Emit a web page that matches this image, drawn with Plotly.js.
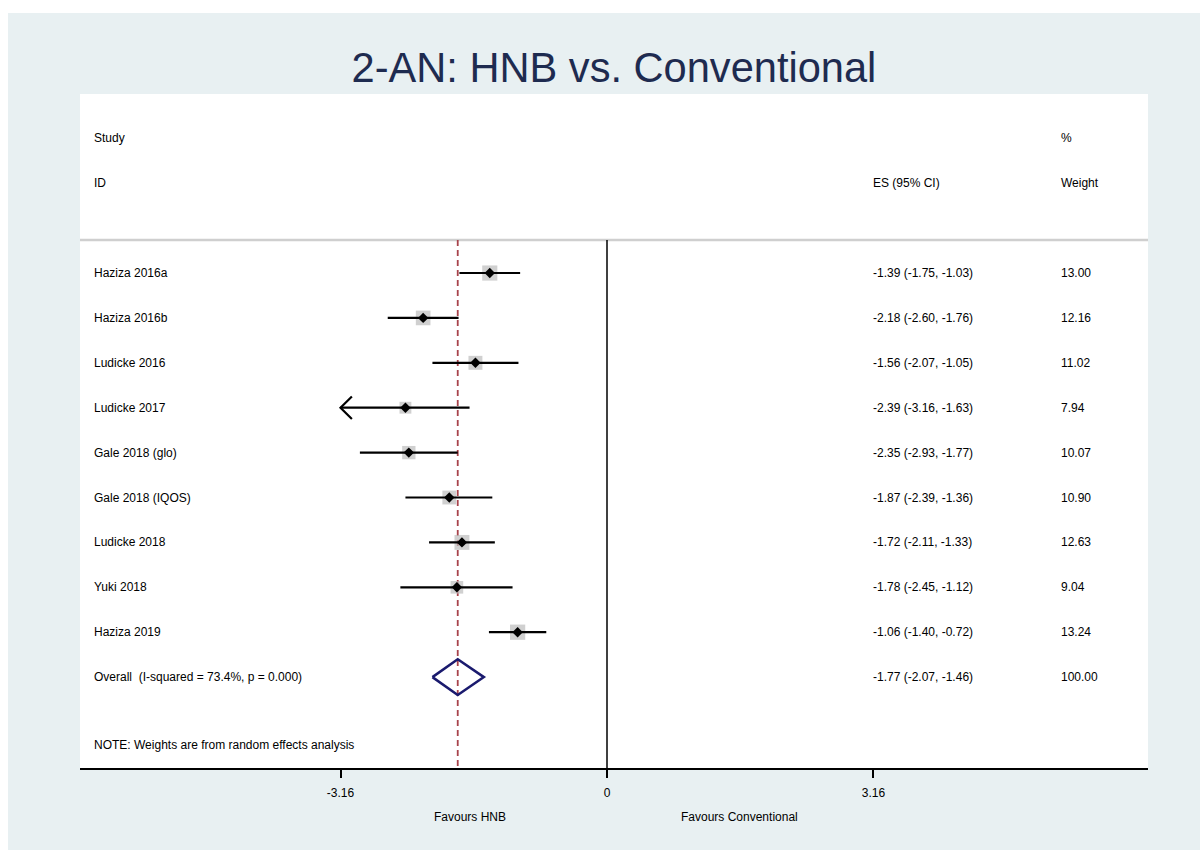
<!DOCTYPE html>
<html>
<head>
<meta charset="utf-8">
<script src="https://cdn.plot.ly/plotly-3.0.1.min.js"></script>
<style>
  html, body { margin: 0; padding: 0; background: #ffffff; }
  #wrap { position: relative; width: 1200px; height: 850px; }
  #chart { position: absolute; left: 8px; top: 13px; width: 1192px; height: 837px; }
</style>
</head>
<body>
<div id="wrap"><div id="chart"></div></div>
<script>
// ---- data ----
const studies = ["Haziza 2016a", "Haziza 2016b", "Ludicke 2016", "Ludicke 2017", "Gale 2018 (glo)",
                 "Gale 2018 (IQOS)", "Ludicke 2018", "Yuki 2018", "Haziza 2019"];
const es     = [-1.39, -2.18, -1.56, -2.39, -2.35, -1.87, -1.72, -1.78, -1.06];
const ciLow  = [-1.75, -2.60, -2.07, -3.16, -2.93, -2.39, -2.11, -2.45, -1.40];
const ciHigh = [-1.03, -1.76, -1.05, -1.63, -1.77, -1.36, -1.33, -1.12, -0.72];
const weights = [13.00, 12.16, 11.02, 7.94, 10.07, 10.90, 12.63, 9.04, 13.24];
const clippedLow = [false, false, false, true, false, false, false, false, false];

const overallLabel = "Overall\u00a0 (I-squared = 73.4%, p = 0.000)";
const overallES = -1.77, overallLow = -2.07, overallHigh = -1.46, overallWeight = 100.00;

const tickVals = [-3.16, 0, 3.16];
const tickText = ["-3.16", "0", "3.16"];
const titleText = "2-AN: HNB vs. Conventional";
const noteText = "NOTE: Weights are from random effects analysis";
const favourLeft = "Favours HNB", favourRight = "Favours Conventional";

// ---- layout helpers ----
const FONT = "Liberation Sans, Arial, Helvetica, sans-serif";
const rows = studies.map((_, i) => i);
const overallRow = studies.length;
const xRange = [-6.249, 6.415];
const yRange = [11.024, -3.987];
const xLabel = -6.11, xES = 3.13, xW = 5.36;
const lineY = -0.735;

const fmt = v => v.toFixed(2);

const traces = [];

// overall dashed line
traces.push({
  x: [overallES, overallES], y: [lineY, yRange[0]],
  mode: "lines", line: {color: "#a8434b", width: 1.8, dash: "6px,4px"},
  hoverinfo: "skip", showlegend: false
});

// weight squares
traces.push({
  x: es, y: rows, mode: "markers",
  marker: {symbol: "square", color: "#bcbcbc", size: weights.map(w => 4.2 * Math.sqrt(w)), line: {width: 0}},
  hoverinfo: "skip", showlegend: false
});

// CI lines
const ciX = [], ciY = [];
rows.forEach(i => { ciX.push(ciLow[i], ciHigh[i], null); ciY.push(i, i, null); });
traces.push({
  x: ciX, y: ciY, mode: "lines", line: {color: "#000000", width: 2.2},
  hoverinfo: "skip", showlegend: false
});

// arrow heads for clipped CIs
const arX = [], arY = [];
rows.forEach(i => {
  if (clippedLow[i]) {
    arX.push(ciLow[i] + 0.135, ciLow[i], ciLow[i] + 0.135, null);
    arY.push(i - 0.25, i, i + 0.25, null);
  }
});
traces.push({
  x: arX, y: arY, mode: "lines", line: {color: "#000000", width: 2.2},
  hoverinfo: "skip", showlegend: false
});

// point estimates
traces.push({
  x: es, y: rows, mode: "markers",
  marker: {symbol: "diamond", color: "#000000", size: 8, line: {width: 0}},
  hoverinfo: "skip", showlegend: false
});

// overall diamond
traces.push({
  x: [overallLow, overallES, overallHigh, overallES, overallLow],
  y: [overallRow, overallRow - 0.4, overallRow, overallRow + 0.4, overallRow],
  mode: "lines", line: {color: "#1a1a6e", width: 2.5},
  hoverinfo: "skip", showlegend: false
});

// ---- annotations ----
const ann = [];
const txt = (x, y, text, extra) => Object.assign({
  x: x, y: y, xref: "x", yref: "y", text: text, showarrow: false,
  xanchor: "left", yanchor: "middle", font: {family: FONT, size: 12, color: "#000000"}
}, extra || {});

ann.push(txt(xLabel, -3, "Study"));
ann.push(txt(xLabel, -2, "ID"));
ann.push(txt(xES, -2, "ES (95% CI)"));
ann.push(txt(xW, -3, "%"));
ann.push(txt(xW, -2, "Weight"));
rows.forEach(i => {
  ann.push(txt(xLabel, i, studies[i]));
  ann.push(txt(xES, i, fmt(es[i]) + " (" + fmt(ciLow[i]) + ", " + fmt(ciHigh[i]) + ")"));
  ann.push(txt(xW, i, fmt(weights[i])));
});
ann.push(txt(xLabel, overallRow, overallLabel));
ann.push(txt(xES, overallRow, fmt(overallES) + " (" + fmt(overallLow) + ", " + fmt(overallHigh) + ")"));
ann.push(txt(xW, overallRow, fmt(overallWeight)));
ann.push(txt(xLabel, 10.51, noteText));
ann.push(txt(-1.63, -0.0727, favourLeft, {yref: "paper", xanchor: "center"}));
ann.push(txt(1.57, -0.0727, favourRight, {yref: "paper", xanchor: "center"}));

const layout = {
  width: 1192, height: 837,
  margin: {l: 72, r: 52, t: 81, b: 82},
  paper_bgcolor: "#e8f0f2",
  plot_bgcolor: "#ffffff",
  title: {
    text: titleText, x: 0.5, xref: "paper", y: 0.9355, yref: "container",
    xanchor: "center", yanchor: "middle",
    font: {family: FONT, size: 41.6, color: "#1e2b50"}
  },
  xaxis: {
    range: xRange, showgrid: false, zeroline: false,
    tickvals: tickVals, ticktext: tickText,
    ticks: "outside", ticklen: 8, tickwidth: 2, tickcolor: "#000000",
    ticklabelstandoff: 5,
    showline: true, linecolor: "#000000", linewidth: 2,
    tickfont: {family: FONT, size: 12, color: "#000000"}
  },
  yaxis: {
    range: yRange, showgrid: false, zeroline: false, showticklabels: false,
    showline: false, ticks: ""
  },
  shapes: [
    {type: "line", xref: "paper", yref: "y", x0: 0, x1: 1, y0: lineY, y1: lineY,
     line: {color: "#cfcfcf", width: 2.5}, layer: "below"},
    {type: "line", xref: "x", yref: "y", x0: 0, x1: 0, y0: lineY, y1: yRange[0],
     line: {color: "#000000", width: 1.5}, layer: "below"}
  ],
  annotations: ann,
  showlegend: false
};

Plotly.newPlot("chart", traces, layout, {staticPlot: true, displayModeBar: false});
</script>
</body>
</html>
